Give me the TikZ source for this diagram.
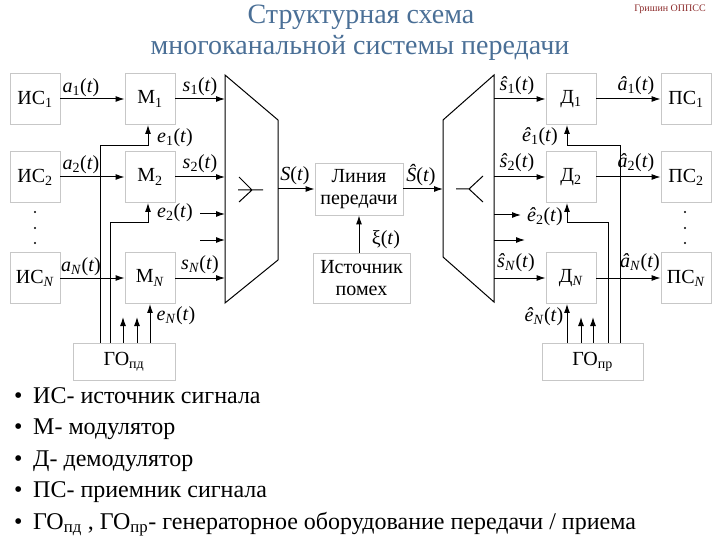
\documentclass[tikz,border=0pt]{standalone}
\usepackage{fontspec}
\setmainfont{Liberation Serif}
\usetikzlibrary{arrows.meta}
\definecolor{titleblue}{HTML}{4A6F96}
\definecolor{authred}{HTML}{8B2A2A}
\newcommand\sg[2]{\textit{#1}\textsubscript{#2}(\textit{t})}
\newcommand\sgN[1]{\textit{#1}\textsubscript{\textit{N}}(\textit{t})}
\begin{document}
\begin{tikzpicture}[x=1pt,y=-1pt,
  box/.style={draw=black!22, line width=0.9pt, minimum width=50pt, minimum height=51pt, inner sep=0pt, font=\fontsize{20}{22}\selectfont},
  arr/.style={-{Latex[length=9pt,width=6pt]}, line width=1pt},
  ln/.style={line width=1pt},
  lab/.style={font=\fontsize{20}{22}\selectfont, inner sep=0pt},
  bul/.style={font=\fontsize{24}{26}\selectfont, inner sep=0pt, anchor=base west},
]
\useasboundingbox (0,0) rectangle (720,540);
% title
\node[font=\fontsize{28}{30}\selectfont, text=titleblue, inner sep=0pt] (t1) at (361,17) {Структурная схема};
\node[font=\fontsize{28}{30}\selectfont, text=titleblue, inner sep=0pt] (t2) at (360,48) {многоканальной системы передачи};
\node[font=\fontsize{10}{11}\selectfont, text=authred, inner sep=0pt] (auth) at (670,9) {Гришин ОППСС};

% source boxes
\node[box] (is1) at (35,99) {ИС\textsubscript{1}};
\node[box] (is2) at (35,177) {ИС\textsubscript{2}};
\node[box] (isN) at (35,278) {ИС\textsubscript{\textit{N}}};
\node[box] (m1) at (150,99) {М\textsubscript{1}};
\node[box] (m2) at (150,177) {М\textsubscript{2}};
\node[box] (mN) at (150,278) {М\textsubscript{\textit{N}}};
\node[box] (d1) at (571,99) {Д\textsubscript{1}};
\node[box] (d2) at (571,177) {Д\textsubscript{2}};
\node[box] (dN) at (571,278) {Д\textsubscript{\textit{N}}};
\node[box] (ps1) at (686,99) {ПС\textsubscript{1}};
\node[box] (ps2) at (686,177) {ПС\textsubscript{2}};
\node[box] (psN) at (686,278) {ПС\textsubscript{\textit{N}}};
\node[box, minimum width=88pt, minimum height=52pt, align=center] (line) at (359,189) {Линия\\передачи};
\node[box, minimum width=97pt, minimum height=50pt, align=center] (noise) at (361.5,278) {Источник\\помех};
\node[box, minimum width=102pt, minimum height=37pt] (gopd) at (124,361.5) {ГО\textsubscript{пд}};
\node[box, minimum width=101pt, minimum height=37pt] (gopr) at (592.5,361.5) {ГО\textsubscript{пр}};

% dots
\foreach \yy in {212,228,243} {
  \fill (35,\yy) circle (1.1);
  \fill (685,\yy) circle (1.1);
}

% mux / demux
\draw[ln] (225,75) -- (278,120) -- (278,260) -- (225,303) -- cycle;
\draw[ln] (239,177) -- (252,190) -- (239,202) (238,190) -- (263,190);
\draw[ln] (494,75) -- (443,120) -- (443,257) -- (494,302) -- cycle;
\draw[ln] (456,189) -- (469,189) (483,176) -- (469,189) -- (483,202);
\coordinate (muxL) at (225,0);
\coordinate (muxR) at (278,189);
\coordinate (dmxL) at (443,189);
\coordinate (dmxR) at (494,0);

% transmitter connections
\draw[arr] (is1) -- (m1);
\draw[arr] (is2) -- (m2);
\draw[arr] (isN) -- (mN);
\draw[arr] (m1) -- (m1 -| muxL);
\draw[arr] (m2) -- (m2 -| muxL);
\draw[arr] (mN) -- (mN -| muxL);
\coordinate (x1) at (200,214);
\coordinate (x2) at (200,240);
\draw[arr] (x1) -- (x1 -| muxL);
\draw[arr] (x2) -- (x2 -| muxL);
\draw[arr] (gopd.north -| 100,0) |- ([xshift=-2pt]m1.south |- 0,146) -- ([xshift=-2pt]m1.south);
\draw[arr] (gopd.north -| 110,0) |- ([xshift=-2pt]m2.south |- 0,223) -- ([xshift=-2pt]m2.south);
\draw[arr] (gopd.north -| mN.south) -- (mN.south);
\draw[arr] (gopd.north -| 123,0) -- (123,317);
\draw[arr] (gopd.north -| 137,0) -- (137,317);

% channel
\draw[arr] (muxR) -- (line);
\draw[arr] (noise.north -| line.south) -- (line.south);
\draw[arr] (line) -- (dmxL);

% receiver connections
\draw[arr] (dmxR |- d1) -- (d1);
\draw[arr] (dmxR |- d2) -- (d2);
\draw[arr] (dmxR |- dN) -- (dN);
\coordinate (y1) at (494,215);
\coordinate (y2) at (494,240);
\draw[arr] (y1) -- (521,215);
\draw[arr] (y2) -- (525,240);
\draw[arr] (d1) -- (ps1);
\draw[arr] (d2) -- (ps2);
\draw[arr] (dN) -- (psN);
\draw[arr] (gopr.north -| 620,0) |- ([xshift=-4pt]d1.south |- 0,146) -- ([xshift=-4pt]d1.south);
\draw[arr] (gopr.north -| 608,0) |- ([xshift=-4pt]d2.south |- 0,223) -- ([xshift=-4pt]d2.south);
\draw[arr] (gopr.north -| 567,0) -- ([xshift=-4pt]dN.south);
\draw[arr] (gopr.north -| 581,0) -- (581,317);
\draw[arr] (gopr.north -| 593,0) -- (593,317);

% labels
\node[lab] (la1) at (81,88) {\sg{a}{1}};
\node[lab] (la2) at (81,165) {\sg{a}{2}};
\node[lab] (laN) at (81,267) {\sgN{a}};
\node[lab] (ls1) at (200,87) {\sg{s}{1}};
\node[lab] (ls2) at (200,164) {\sg{s}{2}};
\node[lab] (lsN) at (200,265) {\sgN{s}};
\node[lab] (le1) at (175,138) {\sg{e}{1}};
\node[lab] (le2) at (175,213) {\sg{e}{2}};
\node[lab] (leN) at (176,316) {\sgN{e}};
\node[lab] (lS) at (295,176) {\textit{S}(\textit{t})};
\node[lab] (lSh) at (421,175) {\textit{Ŝ}(\textit{t})};
\node[lab] (lxi) at (386,240) {ξ(\textit{t})};
\node[lab] (lsh1) at (517,86) {\sg{ŝ}{1}};
\node[lab] (lsh2) at (517,163) {\sg{ŝ}{2}};
\node[lab] (lshN) at (516,263) {\sgN{ŝ}};
\node[lab] (lah1) at (636,86) {\sg{â}{1}};
\node[lab] (lah2) at (636,163) {\sg{â}{2}};
\node[lab] (lahN) at (640,263) {\sgN{â}};
\node[lab] (leh1) at (540,137) {\sg{ê}{1}};
\node[lab] (leh2) at (545,217) {\sg{ê}{2}};
\node[lab] (lehN) at (544,317) {\sgN{ê}};

% bullets
\foreach \yy/\nm in {403/b1,434/b2,466/b3,497/b4,529/b5} {
  \node[bul] (\nm dot) at (14,\yy) {•};
}
\node[bul] (b1) at (33,403) {ИС- источник сигнала};
\node[bul] (b2) at (33,434) {М- модулятор};
\node[bul] (b3) at (33,466) {Д- демодулятор};
\node[bul] (b4) at (33,497) {ПС- приемник сигнала};
\node[bul] (b5) at (33,529) {ГО\textsubscript{пд} , ГО\textsubscript{пр}- генераторное оборудование передачи / приема};
\end{tikzpicture}
\end{document}
